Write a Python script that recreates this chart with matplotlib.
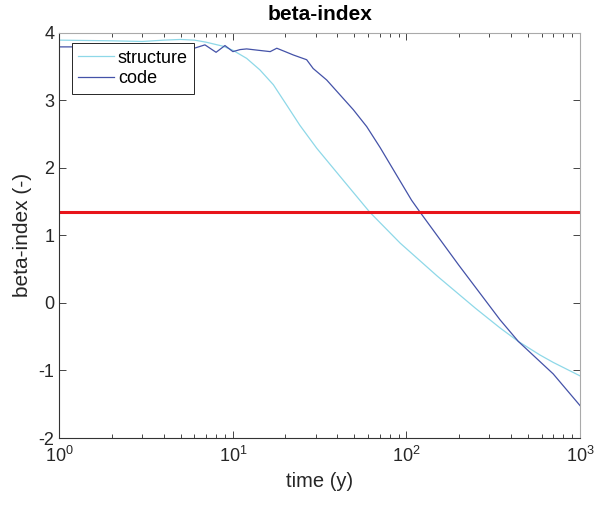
import matplotlib
matplotlib.use("Agg")
import matplotlib.pyplot as plt
from matplotlib.ticker import LogLocator, NullFormatter

plt.rcParams['font.family'] = ['Liberation Sans', 'DejaVu Sans']
plt.rcParams['mathtext.fontset'] = 'custom'
plt.rcParams['mathtext.rm'] = 'Liberation Sans'

# data
structure_t = [1, 2, 3, 4, 5, 6, 7, 8.77, 10, 12, 14.3, 17.1, 20.4, 24.3, 30.4,
               40, 50, 61.6, 92, 150, 250, 346, 441, 587, 700, 1000]
structure_b = [3.89, 3.88, 3.87, 3.89, 3.90, 3.89, 3.86, 3.80, 3.74, 3.62, 3.45,
               3.23, 2.93, 2.63, 2.29, 1.92, 1.62, 1.34, 0.885, 0.40, -0.08,
               -0.37, -0.57, -0.77, -0.88, -1.08]

code_t = [1, 2, 3, 4, 5, 5.5, 6.9, 8.0, 9.0, 10, 11, 12, 14, 16.4, 17.9, 20,
          22.3, 26.6, 29, 34.7, 41.4, 49.4, 59, 70.5, 85, 107, 120, 200, 346,
          441, 700, 1000]
code_b = [3.79, 3.79, 3.78, 3.78, 3.76, 3.74, 3.82, 3.71, 3.81, 3.72, 3.75,
          3.76, 3.74, 3.72, 3.77, 3.72, 3.67, 3.60, 3.47, 3.30, 3.08, 2.86,
          2.61, 2.30, 1.95, 1.52, 1.34, 0.56, -0.25, -0.57, -1.05, -1.52]

threshold = 1.34
xlim = (1, 1000)
ylim = (-2, 4)
yticks = [-2, -1, 0, 1, 2, 3, 4]

fig = plt.figure(figsize=(5.98, 5.07), dpi=100)
ax = fig.add_axes([0.0992, 0.136, 0.8708, 0.7995])

ax.plot(structure_t, structure_b, color='#8ED8E8', lw=0.9, label='structure')
ax.plot(code_t, code_b, color='#4452A8', lw=0.9, label='code')
ax.axhline(threshold, color='#E8141A', lw=2.2)

ax.set_xscale('log')
ax.set_xlim(*xlim)
ax.set_ylim(*ylim)
ax.set_yticks(yticks)
ax.set_yticklabels([str(v) for v in yticks])
ax.xaxis.set_major_locator(LogLocator(base=10, numticks=10))
ax.xaxis.set_minor_locator(LogLocator(base=10, subs=range(2, 10), numticks=20))
ax.xaxis.set_minor_formatter(NullFormatter())

ax.tick_params(which='both', direction='in', top=True, right=True,
               colors='#262626', labelsize=13, width=0.6)
ax.tick_params(which='major', length=5)
ax.tick_params(which='minor', length=3)
ax.tick_params(axis='x', pad=6)
for side in ['left', 'bottom']:
    ax.spines[side].set_color('#333333')
    ax.spines[side].set_linewidth(0.8)
for side in ['top', 'right']:
    ax.spines[side].set_color('#aaaaaa')
    ax.spines[side].set_linewidth(0.8)

ax.set_xlabel('time (y)', fontsize=14.5, color='#262626', labelpad=4)
ax.set_ylabel('beta-index (-)', fontsize=15, color='#262626', labelpad=5)
ax.set_title('beta-index', fontsize=15, fontweight='bold', pad=9)

leg = ax.legend(loc='upper left', bbox_to_anchor=(0.12, 0.9146),
                bbox_transform=fig.transFigure, borderaxespad=0,
                fancybox=False, framealpha=1, edgecolor='#262626',
                fontsize=13, handlelength=2.0, handletextpad=0.2,
                borderpad=0.35, labelspacing=0.2)
leg.get_frame().set_linewidth(0.7)

fig.savefig('out.png', dpi=100)
